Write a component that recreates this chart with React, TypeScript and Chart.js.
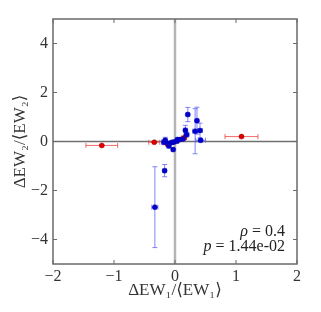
import React, { useEffect, useRef } from "react";
import { Chart, registerables } from "chart.js";

Chart.register(...registerables);

const blueX = [-0.33, -0.17, -0.18, -0.16, -0.1, -0.1, -0.05, -0.03, -0.02, 0.03, 0.04, 0.08, 0.13, 0.17, 0.19, 0.21, 0.33, 0.36, 0.41, 0.42];
const blueY = [-2.68, -1.19, -0.03, 0.05, -0.18, -0.08, -0.04, -0.33, -0.02, 0.01, 0.08, 0.08, 0.1, 0.46, 0.28, 1.1, 0.42, 0.85, 0.45, 0.05];
const blueXErr = [0.05, 0.03, 0.04, 0.03, 0.03, 0.03, 0.04, 0.02, 0.03, 0.03, 0.03, 0.03, 0.03, 0.03, 0.04, 0.03, 0.04, 0.03, 0.04, 0.08];
const blueYErr = [1.65, 0.25, 0.1, 0.12, 0.08, 0.06, 0.08, 0.06, 0.05, 0.05, 0.06, 0.05, 0.06, 0.2, 0.1, 0.29, 0.92, 0.55, 0.3, 0.07];

const redX = [-1.2, -0.34, -0.12, 0.15, 1.09];
const redY = [-0.16, -0.03, -0.11, 0.15, 0.2];
const redXErr = [0.26, 0.09, 0.03, 0.04, 0.27];
const redYErr = [0.03, 0.03, 0.03, 0.04, 0.03];

const xTicks = [-2, -1, 0, 1, 2];
const yTicks = [-4, -2, 0, 2, 4];
const annotSymbols = ["\u03C1", "p"];
const annotValues = [" = 0.4", " = 1.44e-02"];

const SERIF = "'Liberation Serif', 'DejaVu Serif', serif";

const fmt = (v: number) => (v < 0 ? "\u2212" + Math.abs(v) : String(v));

const errorBarPlugin = {
  id: "errbars",
  beforeDatasetsDraw(chart: any) {
    const { ctx, chartArea: a, scales } = chart;
    const xs = scales.x;
    const ys = scales.y;
    ctx.save();
    ctx.strokeStyle = "#b4b4b4";
    ctx.lineWidth = 2.5;
    const x0 = xs.getPixelForValue(0);
    ctx.beginPath();
    ctx.moveTo(x0, a.top);
    ctx.lineTo(x0, a.bottom);
    ctx.stroke();
    ctx.strokeStyle = "#707070";
    ctx.lineWidth = 1.3;
    const y0 = ys.getPixelForValue(0);
    ctx.beginPath();
    ctx.moveTo(a.left, y0);
    ctx.lineTo(a.right, y0);
    ctx.stroke();

    const sets = [
      { x: blueX, y: blueY, ex: blueXErr, ey: blueYErr, c: "rgba(100,100,255,0.8)" },
      { x: redX, y: redY, ex: redXErr, ey: redYErr, c: "rgba(235,80,80,0.85)" },
    ];
    ctx.lineWidth = 1;
    const cap = 2.5;
    for (const s of sets) {
      ctx.strokeStyle = s.c;
      for (let i = 0; i < s.x.length; i++) {
        const px = xs.getPixelForValue(s.x[i]);
        const py = ys.getPixelForValue(s.y[i]);
        const xl = xs.getPixelForValue(s.x[i] - s.ex[i]);
        const xr = xs.getPixelForValue(s.x[i] + s.ex[i]);
        const yt = ys.getPixelForValue(s.y[i] + s.ey[i]);
        const yb = ys.getPixelForValue(s.y[i] - s.ey[i]);
        ctx.beginPath();
        ctx.moveTo(xl, py);
        ctx.lineTo(xr, py);
        ctx.moveTo(xl, py - cap);
        ctx.lineTo(xl, py + cap);
        ctx.moveTo(xr, py - cap);
        ctx.lineTo(xr, py + cap);
        ctx.moveTo(px, yt);
        ctx.lineTo(px, yb);
        ctx.moveTo(px - cap, yt);
        ctx.lineTo(px + cap, yt);
        ctx.moveTo(px - cap, yb);
        ctx.lineTo(px + cap, yb);
        ctx.stroke();
      }
    }
    ctx.restore();
  },
  afterDatasetsDraw(chart: any) {
    const { ctx, chartArea: a, scales } = chart;
    ctx.save();
    ctx.strokeStyle = "#6a6a6a";
    ctx.lineWidth = 1.5;
    ctx.strokeRect(a.left, a.top, a.right - a.left, a.bottom - a.top);
    ctx.lineWidth = 1;
    ctx.beginPath();
    for (const v of xTicks) {
      const px = scales.x.getPixelForValue(v);
      ctx.moveTo(px, a.bottom);
      ctx.lineTo(px, a.bottom - 4);
      ctx.moveTo(px, a.top);
      ctx.lineTo(px, a.top + 4);
    }
    for (const v of yTicks) {
      const py = scales.y.getPixelForValue(v);
      ctx.moveTo(a.left, py);
      ctx.lineTo(a.left + 4, py);
      ctx.moveTo(a.right, py);
      ctx.lineTo(a.right - 4, py);
    }
    ctx.stroke();
    ctx.fillStyle = "#222";
    ctx.textBaseline = "alphabetic";
    ctx.textAlign = "left";
    const right = a.right - 12;
    const baselines = [a.bottom - 28, a.bottom - 13];
    for (let i = 0; i < annotSymbols.length; i++) {
      ctx.font = "16px " + SERIF;
      const wv = ctx.measureText(annotValues[i]).width;
      ctx.font = "italic 16px " + SERIF;
      const ws = ctx.measureText(annotSymbols[i]).width;
      const startX = right - wv - ws;
      ctx.fillText(annotSymbols[i], startX, baselines[i]);
      ctx.font = "16px " + SERIF;
      ctx.fillText(annotValues[i], startX + ws, baselines[i]);
    }
    ctx.restore();
  },
};

export default function App() {
  const ref = useRef<HTMLCanvasElement>(null);
  useEffect(() => {
    document.body.style.margin = "0";
    const chart = new Chart(ref.current as HTMLCanvasElement, {
      type: "scatter",
      data: {
        datasets: [
          {
            data: blueX.map((x, i) => ({ x, y: blueY[i] })),
            backgroundColor: "#0000d0",
            borderColor: "#0000a0",
            borderWidth: 0.5,
            pointRadius: 2.5,
          },
          {
            data: redX.map((x, i) => ({ x, y: redY[i] })),
            backgroundColor: "#e00000",
            borderColor: "#a00000",
            borderWidth: 0.5,
            pointRadius: 2.5,
          },
        ],
      },
      options: {
        animation: false,
        responsive: false,
        layout: { padding: { top: 19, right: 24, left: 10, bottom: 11 } },
        plugins: { legend: { display: false }, tooltip: { enabled: false } },
        scales: {
          x: {
            type: "linear",
            min: -2,
            max: 2,
            afterBuildTicks: (ax: any) => {
              ax.ticks = xTicks.map((v) => ({ value: v }));
            },
            afterFit: (ax: any) => {
              ax.height = 37;
            },
            grid: { display: false, drawTicks: false },
            border: { display: false },
            ticks: {
              color: "#333",
              font: { family: SERIF, size: 16 },
              padding: 3,
              maxRotation: 0,
              callback: (v: any) => fmt(Number(v)),
            },
            title: {
              display: true,
              text: "\u0394EW\u2081/\u27E8EW\u2081\u27E9",
              color: "#333",
              font: { family: SERIF, size: 17 },
              padding: { top: 0, bottom: 0 },
            },
          },
          y: {
            type: "linear",
            min: -5,
            max: 5,
            afterBuildTicks: (ax: any) => {
              ax.ticks = yTicks.map((v) => ({ value: v }));
            },
            afterFit: (ax: any) => {
              ax.width = 43;
            },
            grid: { display: false, drawTicks: false },
            border: { display: false },
            ticks: {
              color: "#333",
              font: { family: SERIF, size: 16 },
              padding: 5,
              callback: (v: any) => fmt(Number(v)),
            },
            title: {
              display: true,
              text: "\u0394EW\u2082/\u27E8EW\u2082\u27E9",
              color: "#333",
              font: { family: SERIF, size: 17 },
              padding: { top: 0, bottom: 0 },
            },
          },
        },
      },
      plugins: [errorBarPlugin],
    });
    return () => chart.destroy();
  }, []);
  return (
    <div style={{ position: "relative", width: 321, height: 312, background: "#fff" }}>
      <canvas ref={ref} width={321} height={312} style={{ display: "block" }} />
    </div>
  );
}
